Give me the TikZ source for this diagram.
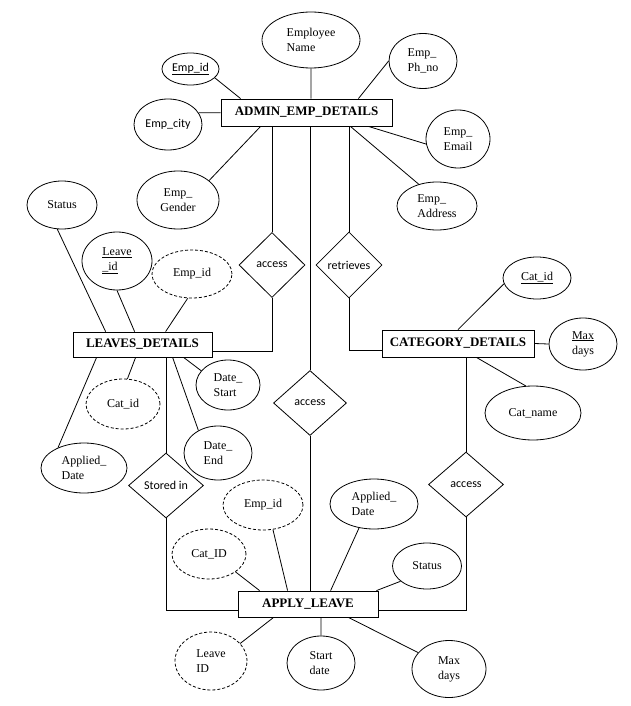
\documentclass[tikz,border=0pt]{standalone}
\usepackage{fontspec}
\setmainfont{Liberation Serif}
\setsansfont{Carlito}
\usetikzlibrary{shapes.geometric}

\begin{document}
\begin{tikzpicture}[%
		x=1pt,
		y=-1pt,
		line width=0.8pt,
		font=\fontsize{12}{15}\selectfont,
		entity/.style={%
			draw,
			inner sep=0pt,
			font=\fontsize{13}{15}\selectfont\bfseries
		},
		attr/.style={%
			ellipse,
			draw,
			inner sep=0pt,
			align=left
		},
		weak/.style={%
			attr,
			dash pattern=on 3pt off 2pt
		},
		rel/.style={%
			diamond,
			draw,
			inner sep=0pt,
			font=\fontsize{12}{14}\selectfont\sffamily
		}
		]
		\useasboundingbox (0,0) rectangle (631,706);
		
		% entities
		\node[entity, minimum width=171, minimum height=27] (admin)  at (306.5,112.5) {ADMIN\_EMP\_DETAILS};
		\node[entity, minimum width=139, minimum height=25] (leaves) at (142.5,344.5) {LEAVES\_DETAILS};
		\node[entity, minimum width=152, minimum height=27] (cat)    at (458,343.5)   {CATEGORY\_DETAILS};
		\node[entity, minimum width=140, minimum height=26] (apply)  at (308,604)     {APPLY\_LEAVE};
		
		% relationships
		\node[rel, minimum width=66, minimum height=65] (acc1)   at (272,265)   {access};
		\node[rel, minimum width=66, minimum height=66] (retr)   at (349,265)   {retrieves};
		\node[rel, minimum width=73, minimum height=65] (acc2)   at (310,403)   {access};
		\node[rel, minimum width=75, minimum height=65] (stored) at (166,485.5) {Stored in};
		\node[rel, minimum width=75, minimum height=65] (acc3)   at (466,484.5) {access};
		
		% admin attributes
		\node[attr, minimum width=98, minimum height=56] (ename)   at (311,40)    {Employee\\Name};
		\node[attr, minimum width=57, minimum height=32, font=\fontsize{12}{14}\selectfont\sffamily] (aempid) at (190.5,69) {\underline{Emp\_id}};
		\node[attr, minimum width=68, minimum height=51, font=\fontsize{12}{14}\selectfont\sffamily] (city)   at (168,124.5) {Emp\_city};
		\node[attr, minimum width=82, minimum height=58, align=center] (gender) at (178,200) {Emp\_\\Gender};
		\node[attr, minimum width=68, minimum height=55] (phno)    at (423,61)    {Emp\_\\Ph\_no};
		\node[attr, minimum width=64, minimum height=58] (email)   at (458,139)   {Emp\_\\Email};
		\node[attr, minimum width=80, minimum height=48] (address) at (437,206)   {Emp\_\\Address};
		
		% leaves attributes
		\node[attr, minimum width=70, minimum height=48] (lstatus)  at (62,205)  {Status};
		\node[attr, minimum width=70, minimum height=58] (leaveid)  at (117,261) {\underline{Leave}\\\underline{\_id}};
		\node[weak, minimum width=80, minimum height=48] (lempid)   at (192,274) {Emp\_id};
		\node[weak, minimum width=74, minimum height=50] (lcatid)   at (123,404) {Cat\_id};
		\node[attr, minimum width=86, minimum height=50] (lapplied) at (84,468)  {Applied\_\\Date};
		\node[attr, minimum width=64, minimum height=50] (dstart)   at (228,385) {Date\_\\Start};
		\node[attr, minimum width=68, minimum height=54] (dend)     at (218,453) {Date\_\\End};
		
		% category attributes
		\node[attr, minimum width=68, minimum height=42] (catid)   at (537,278) {\underline{Cat\_id}};
		\node[attr, minimum width=68, minimum height=52] (cmaxd)   at (583,344) {\underline{Max}\\days};
		\node[attr, minimum width=96, minimum height=54] (catname) at (533,413) {Cat\_name};
		
		% apply attributes
		\node[weak, minimum width=80, minimum height=50] (aempid2)  at (263,505) {Emp\_id};
		\node[weak, minimum width=74, minimum height=50] (acatid)   at (209,554) {Cat\_ID};
		\node[attr, minimum width=88, minimum height=50] (aapplied) at (374,504) {Applied\_\\Date};
		\node[attr, minimum width=69, minimum height=46] (astatus)  at (427,566) {Status};
		\node[weak, minimum width=72, minimum height=58] (aleaveid) at (211,661) {Leave\\ID};
		\node[attr, minimum width=68, minimum height=54] (sdate)    at (321,663) {Start\\date};
		\node[attr, minimum width=74, minimum height=57] (amaxd)    at (449,669) {Max\\days};
		
		% admin connectors
		\draw (ename.south) -- (ename.south |- admin.north)
		(aempid.-20) -- ([xshift=20pt]admin.north west)
		(city.21) -- (city.21 -| admin.west)
		(gender.32) -- ([xshift=40pt]admin.south west)
		(phno.west) -- ([xshift=-34pt]admin.north east)
		(email.189) -- ([xshift=-24pt]admin.south east)
		(address.130) -- ([xshift=-42pt]admin.south east);
		
		% leaves connectors
		\draw (lstatus.-101) -- ([xshift=33pt]leaves.north west)
		(leaveid.south) -- ([xshift=62pt]leaves.north west)
		(lempid.-100) -- ([xshift=93pt]leaves.north west)
		(lcatid.80) -- ([xshift=63pt]leaves.south west)
		(lapplied.142) -- ([xshift=24pt]leaves.south west)
		(dstart.152) -- ([xshift=111pt]leaves.south west)
		(dend.131) -- ([xshift=100pt]leaves.south west);
		
		% category connectors
		\draw (catid.190) -- (cat.north)
		(cat.east) -- (cmaxd.west)
		(catname.105) -- ([xshift=-58pt]cat.south east);
		
		% apply connectors
		\draw (aempid2.-68) -- ([xshift=50pt]apply.north west)
		(acatid.-34) -- ([xshift=22pt]apply.north west)
		(aapplied.-122) -- ([xshift=93pt]apply.north west)
		(astatus.-150) -- ([xshift=-2pt]apply.north east)
		(aleaveid.31) -- ([xshift=36pt]apply.south west)
		(sdate.north) -- (sdate.north |- apply.south)
		(amaxd.152) -- ([xshift=-30pt]apply.south east);
		
		% relationship connectors
		\draw (acc1.north) -- (acc1.north |- admin.south)
		(acc1.south) |- ([yshift=-7pt]leaves.east)
		(retr.north) -- (retr.north |- admin.south)
		(retr.south) |- ([yshift=-6.5pt]cat.west)
		(acc2.north) -- (acc2.north |- admin.south)
		(acc2.south) -- (acc2.south |- apply.north)
		(stored.north) -- (stored.north |- leaves.south)
		(stored.south) |- ([yshift=-6pt]apply.west)
		(acc3.north) -- (acc3.north |- cat.south)
		(acc3.south) |- ([yshift=-6pt]apply.east);
\end{tikzpicture}
\end{document}
